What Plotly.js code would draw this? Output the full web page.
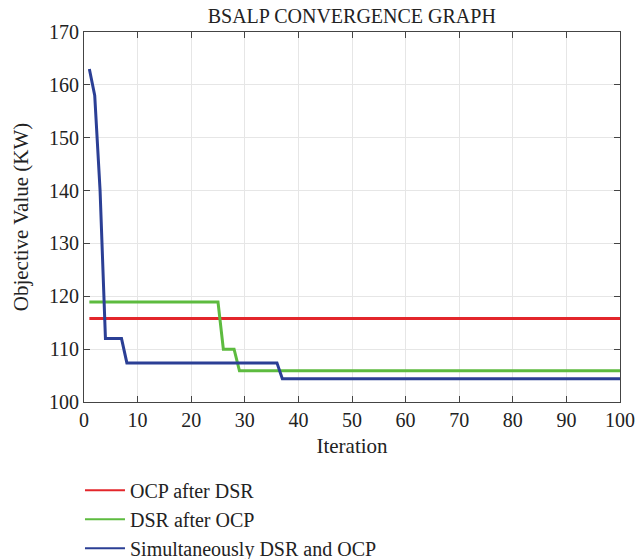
<!DOCTYPE html>
<html><head><meta charset="utf-8">
<script src="https://cdn.plot.ly/plotly-3.0.1.min.js"></script>
<style>body{margin:0;background:#fff}#c{width:635px;height:559px}</style>
</head><body><div id="c"></div>
<script>
const redX = [1, 100];
const redY = [115.8, 115.8];
const greenX = [1, 25, 26, 28, 29, 100];
const greenY = [118.9, 118.9, 110, 110, 105.9, 105.9];
const blueX = [1, 2, 3, 4, 7, 8, 36, 37, 100];
const blueY = [163, 158, 140, 112, 112, 107.4, 107.4, 104.4, 104.4];
const seriesNames = ["OCP after DSR", "DSR after OCP", "Simultaneously DSR and OCP"];
const seriesColors = ["#e3262b", "#5dbb3f", "#2b3f95"];
const xTicks = [0,10,20,30,40,50,60,70,80,90,100];
const yTicks = [100,110,120,130,140,150,160,170];

const font = "Liberation Serif, Times New Roman, serif";
const dataX = [redX, greenX, blueX];
const dataY = [redY, greenY, blueY];
const traces = [];
for (let i = 0; i < 3; i++) {
  traces.push({x: dataX[i], y: dataY[i], name: seriesNames[i], mode: "lines", showlegend: false,
    line: {color: seriesColors[i], width: 3}});
}
for (let i = 0; i < 3; i++) {
  traces.push({x: [null], y: [null], name: seriesNames[i], mode: "lines", showlegend: true,
    line: {color: seriesColors[i], width: 2}});
}
const axisCommon = {
  showline: true, mirror: "ticks", linecolor: "#444", linewidth: 1,
  ticks: "inside", ticklen: 6, tickcolor: "#444",
  showgrid: true, gridcolor: "#e6e6e6", zeroline: false,
  tickfont: {family: font, size: 20, color: "#222"}
};
const layout = {
  width: 635, height: 559,
  margin: {l: 84, r: 15, t: 32, b: 157},
  paper_bgcolor: "#fff", plot_bgcolor: "#fff",
  title: {text: "BSALP CONVERGENCE GRAPH", font: {family: font, size: 20, color: "#222"}, x: 0.554, xanchor: "center", y: 0.972, yanchor: "middle"},
  xaxis: Object.assign({}, axisCommon, {range: [0, 100], tickvals: xTicks, automargin: false, title: {text: "Iteration", font: {family: font, size: 21, color: "#222"}, standoff: 8}}),
  yaxis: Object.assign({}, axisCommon, {range: [100, 170], tickvals: yTicks, automargin: false, title: {text: "Objective Value (KW)", font: {family: font, size: 21, color: "#222"}, standoff: 14}}),
  showlegend: true,
  legend: {x: -0.0075, xref: "paper", xanchor: "left", y: 0.158, yref: "container", yanchor: "top", itemwidth: 40,
    font: {family: font, size: 20, color: "#222"}, bgcolor: "rgba(0,0,0,0)", tracegroupgap: 0}
};
Plotly.newPlot("c", traces, layout, {displayModeBar: false});
</script></body></html>
